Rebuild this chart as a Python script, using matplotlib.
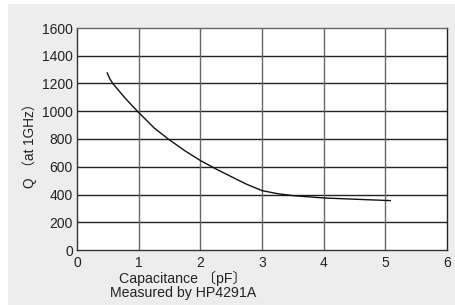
import matplotlib
matplotlib.use("Agg")
import matplotlib.pyplot as plt
from matplotlib.patches import Rectangle

cap = [0.49, 0.53, 0.58, 0.78, 0.98, 1.25, 1.48, 1.75, 2.0, 2.25, 2.5, 2.75, 3.0, 3.25, 3.5, 4.0, 4.5, 5.08]
q = [1276, 1236, 1200, 1095, 1000, 880, 800, 715, 645, 585, 529, 474, 428, 406, 392, 375, 366, 356]
xticks = [0, 1, 2, 3, 4, 5, 6]
yticks = [0, 200, 400, 600, 800, 1000, 1200, 1400, 1600]

fam = ['Liberation Sans', 'Noto Sans CJK JP', 'DejaVu Sans']
plt.rcParams['font.family'] = fam

fig = plt.figure(figsize=(4.56, 3.05), dpi=100)
fig.patch.set_facecolor('white')
fig.add_artist(Rectangle((8/456, 0), 1, (305-4)/305, transform=fig.transFigure,
                         facecolor='#ededed', edgecolor='none', zorder=0))

ax = fig.add_axes([77/456, (305-250)/305, (447-77)/456, (250-28)/305])
ax.set_facecolor('white')
ax.set_xlim(0, 6)
ax.set_ylim(0, 1600)
ax.set_xticks(xticks)
ax.set_yticks(yticks)
ax.tick_params(length=0, labelsize=10, colors='#222222')
ax.tick_params(axis='x', pad=4)
ax.tick_params(axis='y', pad=3)

for yv in yticks[1:-1]:
    ax.axhline(yv, color='#222222', lw=1.0, zorder=1)
for xv in xticks[1:-1]:
    ax.axvline(xv, color='#666666', lw=1.0, zorder=1)
for s, c in [('left', '#333333'), ('bottom', '#333333'), ('top', '#666666'), ('right', '#222222')]:
    ax.spines[s].set_color(c)
    ax.spines[s].set_linewidth(1.0)

ax.plot(cap, q, color='#111111', lw=1.0, zorder=3)

ax.text(1.72, -28/222, 'Capacitance \u3014pF\u3015', transform=ax.get_xaxis_transform(),
        ha='center', va='center', fontsize=10.2, color='#222222', family=fam)
ax.text(1.72, -43/222, 'Measured by HP4291A', transform=ax.get_xaxis_transform(),
        ha='center', va='center', fontsize=10.2, color='#222222', family=fam)
fig.text(30/456, 1 - 142/305, 'Q \uff08at 1GHz\uff09', rotation=90, ha='center', va='center',
         fontsize=9.8, color='#222222', family=fam)

fig.savefig('out.png', dpi=100)
